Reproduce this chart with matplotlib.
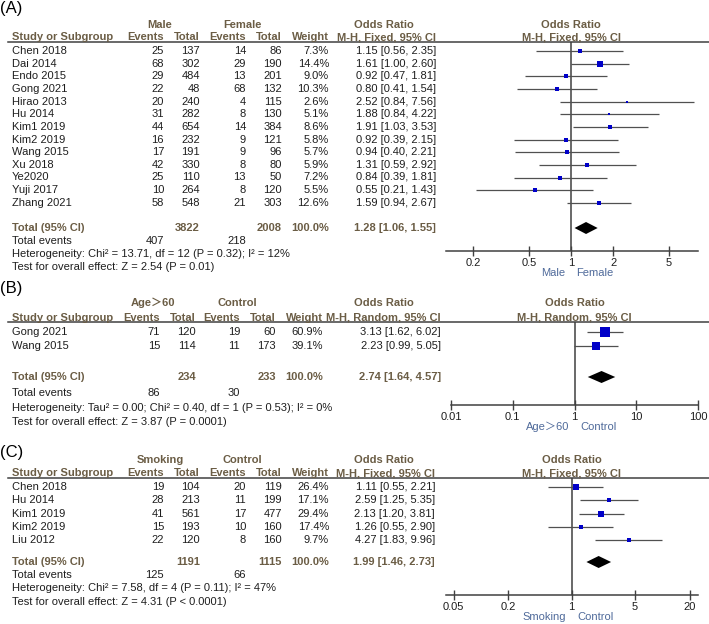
import matplotlib
matplotlib.use("Agg")
import matplotlib.pyplot as plt
import matplotlib.transforms as mtransforms
from matplotlib.lines import Line2D

plt.rcParams['font.family'] = ['Liberation Sans', 'Noto Sans CJK SC']

W, H = 709, 624

# ---- Panel A: male vs female ----
a_study = ['Chen 2018', 'Dai 2014', 'Endo 2015', 'Gong 2021', 'Hirao 2013', 'Hu 2014',
           'Kim1 2019', 'Kim2 2019', 'Wang 2015', 'Xu 2018', 'Ye2020', 'Yuji 2017', 'Zhang 2021']
a_ev1 = [25, 68, 29, 22, 20, 31, 44, 16, 17, 42, 25, 10, 58]
a_tot1 = [137, 302, 484, 48, 240, 282, 654, 232, 191, 330, 110, 264, 548]
a_ev2 = [14, 29, 13, 68, 4, 8, 14, 9, 9, 8, 13, 8, 21]
a_tot2 = [86, 190, 201, 132, 115, 130, 384, 121, 96, 80, 50, 120, 303]
a_weight = [7.3, 14.4, 9.0, 10.3, 2.6, 5.1, 8.6, 5.8, 5.7, 5.9, 7.2, 5.5, 12.6]
a_or = [1.15, 1.61, 0.92, 0.80, 2.52, 1.88, 1.91, 0.92, 0.94, 1.31, 0.84, 0.55, 1.59]
a_lo = [0.56, 1.00, 0.47, 0.41, 0.84, 0.84, 1.03, 0.39, 0.40, 0.59, 0.39, 0.21, 0.94]
a_hi = [2.35, 2.60, 1.81, 1.54, 7.56, 4.22, 3.53, 2.15, 2.21, 2.92, 1.81, 1.43, 2.67]
a_total = [1.28, 1.06, 1.55]
a_sums = [3822, 2008, 407, 218]
a_ticks = [0.2, 0.5, 1, 2, 5]
a_ticklabels = ['0.2', '0.5', '1', '2', '5']

# ---- Panel B: age > 60 vs control ----
b_study = ['Gong 2021', 'Wang 2015']
b_ev1 = [71, 15]
b_tot1 = [120, 114]
b_ev2 = [19, 11]
b_tot2 = [60, 173]
b_weight = [60.9, 39.1]
b_or = [3.13, 2.23]
b_lo = [1.62, 0.99]
b_hi = [6.02, 5.05]
b_total = [2.74, 1.64, 4.57]
b_sums = [234, 233, 86, 30]
b_ticks = [0.01, 0.1, 1, 10, 100]
b_ticklabels = ['0.01', '0.1', '1', '10', '100']

# ---- Panel C: smoking vs control ----
c_study = ['Chen 2018', 'Hu 2014', 'Kim1 2019', 'Kim2 2019', 'Liu 2012']
c_ev1 = [19, 28, 41, 15, 22]
c_tot1 = [104, 213, 561, 193, 120]
c_ev2 = [20, 11, 17, 10, 8]
c_tot2 = [119, 199, 477, 160, 160]
c_weight = [26.4, 17.1, 29.4, 17.4, 9.7]
c_or = [1.11, 2.59, 2.13, 1.26, 4.27]
c_lo = [0.55, 1.25, 1.20, 0.55, 1.83]
c_hi = [2.21, 5.35, 3.81, 2.90, 9.96]
c_total = [1.99, 1.46, 2.73]
c_sums = [1191, 1115, 125, 66]
c_ticks = [0.05, 0.2, 1, 5, 20]
c_ticklabels = ['0.05', '0.2', '1', '5', '20']

HC = '#6b5d45'      # header colour
TC = '#1e1e1e'      # body text
FS = 8

fig = plt.figure(figsize=(W / 100, H / 100), dpi=100)
px = mtransforms.Affine2D().scale(1 / W, -1 / H).translate(0, 1) + fig.transFigure


def txt(x, y, s, **kw):
    kw.setdefault('fontsize', FS)
    kw.setdefault('color', TC)
    kw.setdefault('va', 'center')
    fig.text(x, y, s, transform=px, **kw)


def panel(tag, groups, method, study, ev1, tot1, ev2, tot2, weight, orr, lo, hi,
          total, sums, het, test, ticks, ticklabels, xlabels, lay):
    cols = lay['cols']
    txt(0, lay['label_y'], tag, fontsize=12, color='black')
    # header
    txt(lay['group_x'][0], lay['group_y'], groups[0], ha='center', weight='bold', color=HC)
    txt(lay['group_x'][1], lay['group_y'], groups[1], ha='center', weight='bold', color=HC)
    txt(lay['or_head'], lay['group_y'], 'Odds Ratio', ha='center', weight='bold', color=HC)
    txt(12, lay['head_y'], 'Study or Subgroup', weight='bold', color=HC)
    for x, s in zip(cols[:5], ['Events', 'Total', 'Events', 'Total', 'Weight']):
        txt(x, lay['head_y'], s, ha='right', weight='bold', color=HC)
    txt(cols[5], lay['head_y'], 'M-H, ' + method + ', 95% CI', ha='right', weight='bold', color=HC)
    fig.add_artist(Line2D([8, W], [lay['line_y']] * 2, transform=px, color='#404040', lw=1.1))

    # study rows
    for i, name in enumerate(study):
        y = lay['row0'] + i * lay['dy']
        txt(12, y, name)
        vals = [str(ev1[i]), str(tot1[i]), str(ev2[i]), str(tot2[i]), '%.1f%%' % weight[i],
                '%.2f [%.2f, %.2f]' % (orr[i], lo[i], hi[i])]
        for x, s in zip(cols, vals):
            txt(x, y, s, ha='right')

    ty = lay['total_y']
    txt(12, ty, 'Total (95% CI)', weight='bold', color=HC)
    txt(cols[1], ty, str(sums[0]), ha='right', weight='bold', color=HC)
    txt(cols[3], ty, str(sums[1]), ha='right', weight='bold', color=HC)
    txt(cols[4], ty, '100.0%', ha='right', weight='bold', color=HC)
    txt(cols[5], ty, '%.2f [%.2f, %.2f]' % tuple(total), ha='right', weight='bold', color=HC)
    txt(12, lay['events_y'], 'Total events')
    txt(cols[0], lay['events_y'], str(sums[2]), ha='right')
    txt(cols[2], lay['events_y'], str(sums[3]), ha='right')
    txt(12, lay['het_y'], het)
    txt(12, lay['test_y'], test)

    # forest axes
    x0, x1 = lay['ax_x']
    top, bot = lay['line_y'], lay['axis_y']
    ax = fig.add_axes([x0 / W, 1 - bot / H, (x1 - x0) / W, (bot - top) / H])
    ax.set_xscale('log')
    ax.set_xlim(*lay['xlim'])
    r0, dy = lay['row0'], lay['dy']
    ax.set_ylim((bot - r0) / dy, (top - r0) / dy)
    ax.patch.set_alpha(0)
    for s in ['left', 'right', 'top']:
        ax.spines[s].set_visible(False)
    ax.spines['bottom'].set_color('#404040')
    ax.spines['bottom'].set_linewidth(1.1)
    ax.set_yticks([])
    ax.set_xticks(ticks)
    ax.set_xticklabels(ticklabels, fontsize=FS, color=TC)
    ax.minorticks_off()
    ax.tick_params(axis='x', direction='inout', length=7, width=1, color='#404040', pad=1.5)
    ax.axvline(1, color='#404040', lw=1.1)

    rows = list(range(len(study)))
    ax.hlines(rows, lo, hi, color='#505050', lw=0.9)
    for i in rows:
        ax.plot(orr[i], i, marker='s', color='#0000c8', mec='#0000c8',
                ms=lay['sq'] * weight[i] ** 0.5, mew=0)
    t_idx = (ty - r0) / dy
    h = 6 / dy
    ax.fill([total[1], total[0], total[2], total[0]], [t_idx, t_idx - h, t_idx, t_idx + h],
            color='black', lw=0)

    # head over forest
    bt = mtransforms.blended_transform_factory(ax.transData, px)
    fig.text(1, lay['group_y'], 'Odds Ratio', transform=bt, ha='center', va='center',
             fontsize=FS, weight='bold', color=HC)
    fig.text(1, lay['head_y'], 'M-H, ' + method + ', 95% CI', transform=bt, ha='center',
             va='center', fontsize=FS, weight='bold', color=HC)
    ax.annotate(xlabels[0], xy=(1, 0), xycoords=('data', 'axes fraction'), xytext=(-4, -16),
                textcoords='offset points', ha='right', va='center', fontsize=FS, color='#4f6a9a')
    ax.annotate(xlabels[1], xy=(1, 0), xycoords=('data', 'axes fraction'), xytext=(4, -16),
                textcoords='offset points', ha='left', va='center', fontsize=FS, color='#4f6a9a')


lay_a = dict(label_y=9, group_y=25, head_y=37, line_y=42, row0=51, dy=12.65, total_y=228,
             events_y=241, het_y=254, test_y=267, axis_y=251, ax_x=(446, 698),
             xlim=(0.128, 8.07), cols=[164, 200, 246, 282, 329, 436], group_x=[160, 242],
             or_head=384, sq=0.95)
lay_b = dict(label_y=288, group_y=303, head_y=318, line_y=322, row0=332, dy=14, total_y=377,
             events_y=393, het_y=408, test_y=422, axis_y=405, ax_x=(451, 698),
             xlim=(0.01, 100), cols=[160, 196, 240, 276, 323, 441], group_x=[153, 237],
             or_head=384, sq=0.92)
lay_c = dict(label_y=453, group_y=460, head_y=473, line_y=478, row0=487, dy=13.3, total_y=562,
             events_y=575, het_y=588, test_y=602, axis_y=595, ax_x=(446, 698),
             xlim=(0.0413, 24.8), cols=[164, 200, 246, 282, 329, 435], group_x=[160, 242],
             or_head=384, sq=0.8)

panel('(A)', ['Male', 'Female'], 'Fixed', a_study, a_ev1, a_tot1, a_ev2, a_tot2, a_weight,
      a_or, a_lo, a_hi, a_total, a_sums,
      'Heterogeneity: Chi² = 13.71, df = 12 (P = 0.32); I² = 12%',
      'Test for overall effect: Z = 2.54 (P = 0.01)',
      a_ticks, a_ticklabels, ['Male', 'Female'], lay_a)
panel('(B)', ['Age＞60', 'Control'], 'Random', b_study, b_ev1, b_tot1, b_ev2, b_tot2, b_weight,
      b_or, b_lo, b_hi, b_total, b_sums,
      'Heterogeneity: Tau² = 0.00; Chi² = 0.40, df = 1 (P = 0.53); I² = 0%',
      'Test for overall effect: Z = 3.87 (P = 0.0001)',
      b_ticks, b_ticklabels, ['Age＞60', 'Control'], lay_b)
panel('(C)', ['Smoking', 'Control'], 'Fixed', c_study, c_ev1, c_tot1, c_ev2, c_tot2, c_weight,
      c_or, c_lo, c_hi, c_total, c_sums,
      'Heterogeneity: Chi² = 7.58, df = 4 (P = 0.11); I² = 47%',
      'Test for overall effect: Z = 4.31 (P < 0.0001)',
      c_ticks, c_ticklabels, ['Smoking', 'Control'], lay_c)

fig.savefig('out.png', dpi=100)
